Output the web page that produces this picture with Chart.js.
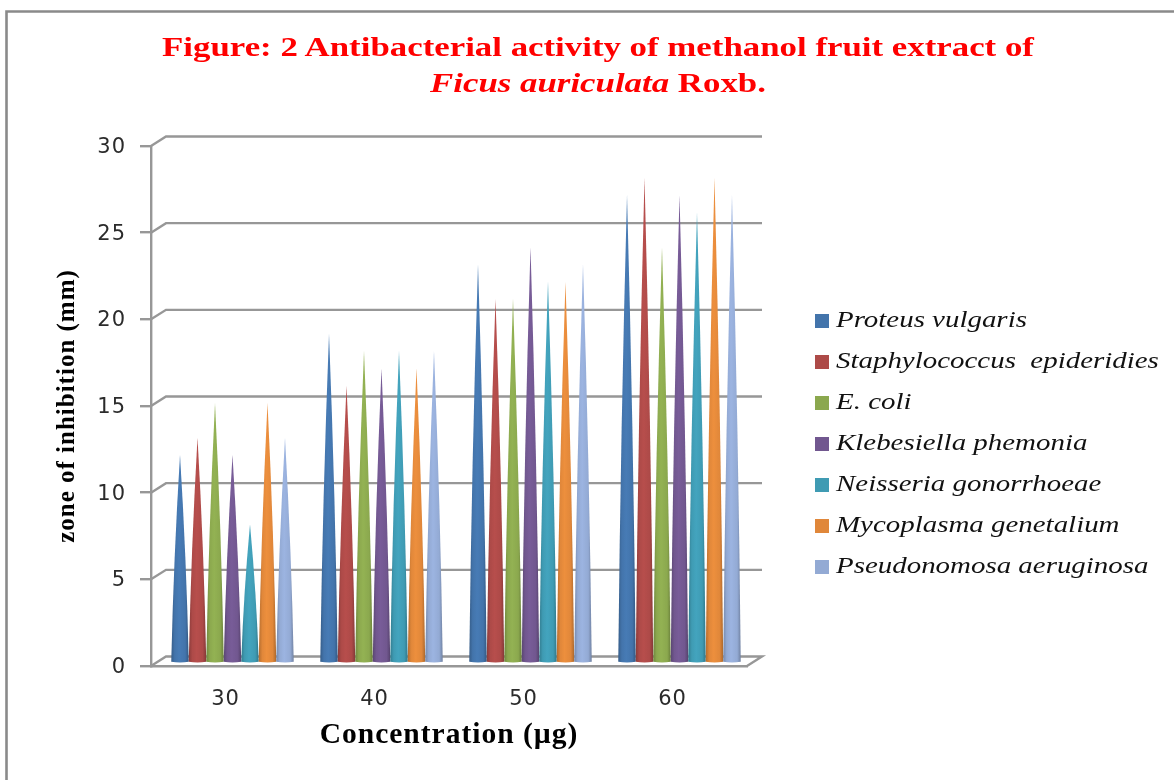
<!DOCTYPE html>
<html>
<head>
<meta charset="utf-8">
<script src="https://cdn.jsdelivr.net/npm/chart.js@4"></script>
<style>
  html, body { margin: 0; padding: 0; background: #fff; overflow: hidden; }
  #wrap { position: relative; width: 1174px; height: 780px; }
  #grafico { position: absolute; left: 0; top: 0; }
  .titolo {
    position: absolute; left: 98px; width: 1000px; text-align: center; white-space: nowrap;
    font: bold 28px "Liberation Serif", serif; color: #ff0000; line-height: 36px;
    transform: scaleX(1.244);
  }
</style>
</head>
<body>
<div id="wrap">
  <canvas id="grafico" width="1174" height="780"></canvas>
  <div class="titolo" style="top:29px">Figure: 2 Antibacterial activity of methanol fruit extract of</div>
  <div class="titolo" style="top:65px"><i>Ficus auriculata</i> Roxb.</div>
</div>
<script>
const categories = ['30', '40', '50', '60'];
const proteus = [12, 19, 23, 27];
const staphylococcus = [13, 16, 21, 28];
const ecoli = [15, 18, 21, 24];
const klebsiella = [12, 17, 24, 27];
const neisseria = [8, 18, 22, 26];
const mycoplasma = [15, 17, 22, 28];
const pseudomonas = [13, 18, 23, 27];

const ctx = document.getElementById('grafico').getContext('2d');

const serie = [
  ['Proteus vulgaris', proteus, '#4374ab'],
  ['Staphylococcus  epideridies', staphylococcus, '#ad4a48'],
  ['E. coli', ecoli, '#8ba84e'],
  ['Klebesiella phemonia', klebsiella, '#71578f'],
  ['Neisseria gonorrhoeae', neisseria, '#3f9bb3'],
  ['Mycoplasma genetalium', mycoplasma, '#e0873a'],
  ['Pseudonomosa aeruginosa', pseudomonas, '#93aad4']
];

const grigio = '#979797';
const depthX = 15, depthY = 9.5;

function scurisci(hex, f) {
  const n = parseInt(hex.slice(1), 16);
  const c = [n >> 16, (n >> 8) & 255, n & 255].map(v => Math.min(255, Math.round(v * f)));
  return 'rgb(' + c.join(',') + ')';
}

// cono al posto della barra, stessa x e stessa altezza
function disegnaCono(c, el, colore) {
  const x = el.x + 7, top = el.y - 3, base = el.base - 3, w = el.width / 2;
  const midY = (top + base) / 2;
  const g = c.createLinearGradient(x - w, 0, x + w, 0);
  g.addColorStop(0, scurisci(colore, 0.8));
  g.addColorStop(0.2, colore);
  g.addColorStop(0.45, scurisci(colore, 1.06));
  g.addColorStop(0.8, colore);
  g.addColorStop(1, scurisci(colore, 0.76));
  c.beginPath();
  c.moveTo(x, top);
  c.quadraticCurveTo(x + w / 2 + 2, midY, x + w, base);
  c.quadraticCurveTo(x, base + 1.5, x - w, base);
  c.quadraticCurveTo(x - w / 2 - 2, midY, x, top);
  c.closePath();
  c.fillStyle = g;
  c.fill();
}

const cono3d = {
  id: 'cono3d',
  beforeDraw(chart) {
    const c = chart.ctx;
    c.save();
    c.strokeStyle = '#8a8a8a';
    c.lineWidth = 2.6;
    c.beginPath();
    c.moveTo(6.5, 780);
    c.lineTo(6.5, 11.5);
    c.lineTo(1174, 11.5);
    c.stroke();
    c.restore();
    c.letterSpacing = '1px';
  },
  beforeDatasetsDraw(chart) {
    const c = chart.ctx;
    const y = chart.scales.y, x = chart.scales.x;
    c.letterSpacing = '0px';
    c.save();
    c.strokeStyle = grigio;
    c.lineWidth = 2.4;
    y.ticks.forEach(t => {
      const py = y.getPixelForValue(t.value);
      c.beginPath();
      c.moveTo(x.left, py);
      c.lineTo(x.left + depthX, py - depthY);
      c.lineTo(x.right + depthX, py - depthY);
      if (t.value === 0) c.lineTo(x.right, py);
      c.stroke();
    });
    c.filter = 'blur(0.6px)';
    chart.data.datasets.forEach((d, i) => {
      chart.getDatasetMeta(i).data.forEach(el => disegnaCono(c, el, d.backgroundColor));
    });
    c.filter = 'none';
    // legenda
    c.textBaseline = 'middle';
    c.font = 'italic 24px "Liberation Serif", serif';
    chart.data.datasets.forEach((d, i) => {
      const ly = 321 + i * 41;
      c.fillStyle = d.backgroundColor;
      c.fillRect(815, ly - 7, 14, 14);
      c.save();
      c.translate(836, ly);
      c.scale(1.205, 1);
      c.fillStyle = '#111';
      c.fillText(d.label, 0, 0);
      c.restore();
    });
    c.restore();
    return false;
  }
};

const data = {
  labels: categories,
  datasets: serie.map(s => ({
    label: s[0],
    data: s[1],
    backgroundColor: s[2],
    categoryPercentage: 0.822,
    barPercentage: 1
  }))
};

const options = {
  responsive: false,
  animation: false,
  layout: { padding: { top: 146, right: 427, left: 0, bottom: 0 } },
  plugins: {
    legend: { display: false },
    tooltip: { enabled: false }
  },
  scales: {
    y: {
      min: 0,
      max: 30,
      afterFit: s => { s.width = 151; },
      ticks: {
        stepSize: 5,
        padding: 14,
        labelOffset: 1.5,
        color: '#2b2b2b',
        font: { family: '"DejaVu Sans"', size: 21 }
      },
      border: { color: grigio, width: 2.4 },
      grid: { drawOnChartArea: false, color: grigio, lineWidth: 2.4, tickLength: 11 },
      title: {
        display: true,
        text: 'zone of inhibition (mm)',
        color: '#000',
        font: { family: '"Liberation Serif"', size: 25, weight: 'bold' },
        padding: { top: 53, bottom: 0 }
      }
    },
    x: {
      afterFit: s => { s.height = 114; },
      ticks: {
        padding: 13,
        color: '#2b2b2b',
        font: { family: '"DejaVu Sans"', size: 21 }
      },
      border: { color: grigio, width: 2.4 },
      grid: { display: false },
      title: {
        display: true,
        text: 'Concentration (µg)',
        color: '#000',
        font: { family: '"Liberation Serif"', size: 29.5, weight: 'bold' },
        padding: { top: 0, bottom: 27 }
      }
    }
  }
};

new Chart(ctx, {
  type: 'bar',
  data: data,
  options: options,
  plugins: [cono3d]
});
</script>
</body>
</html>
